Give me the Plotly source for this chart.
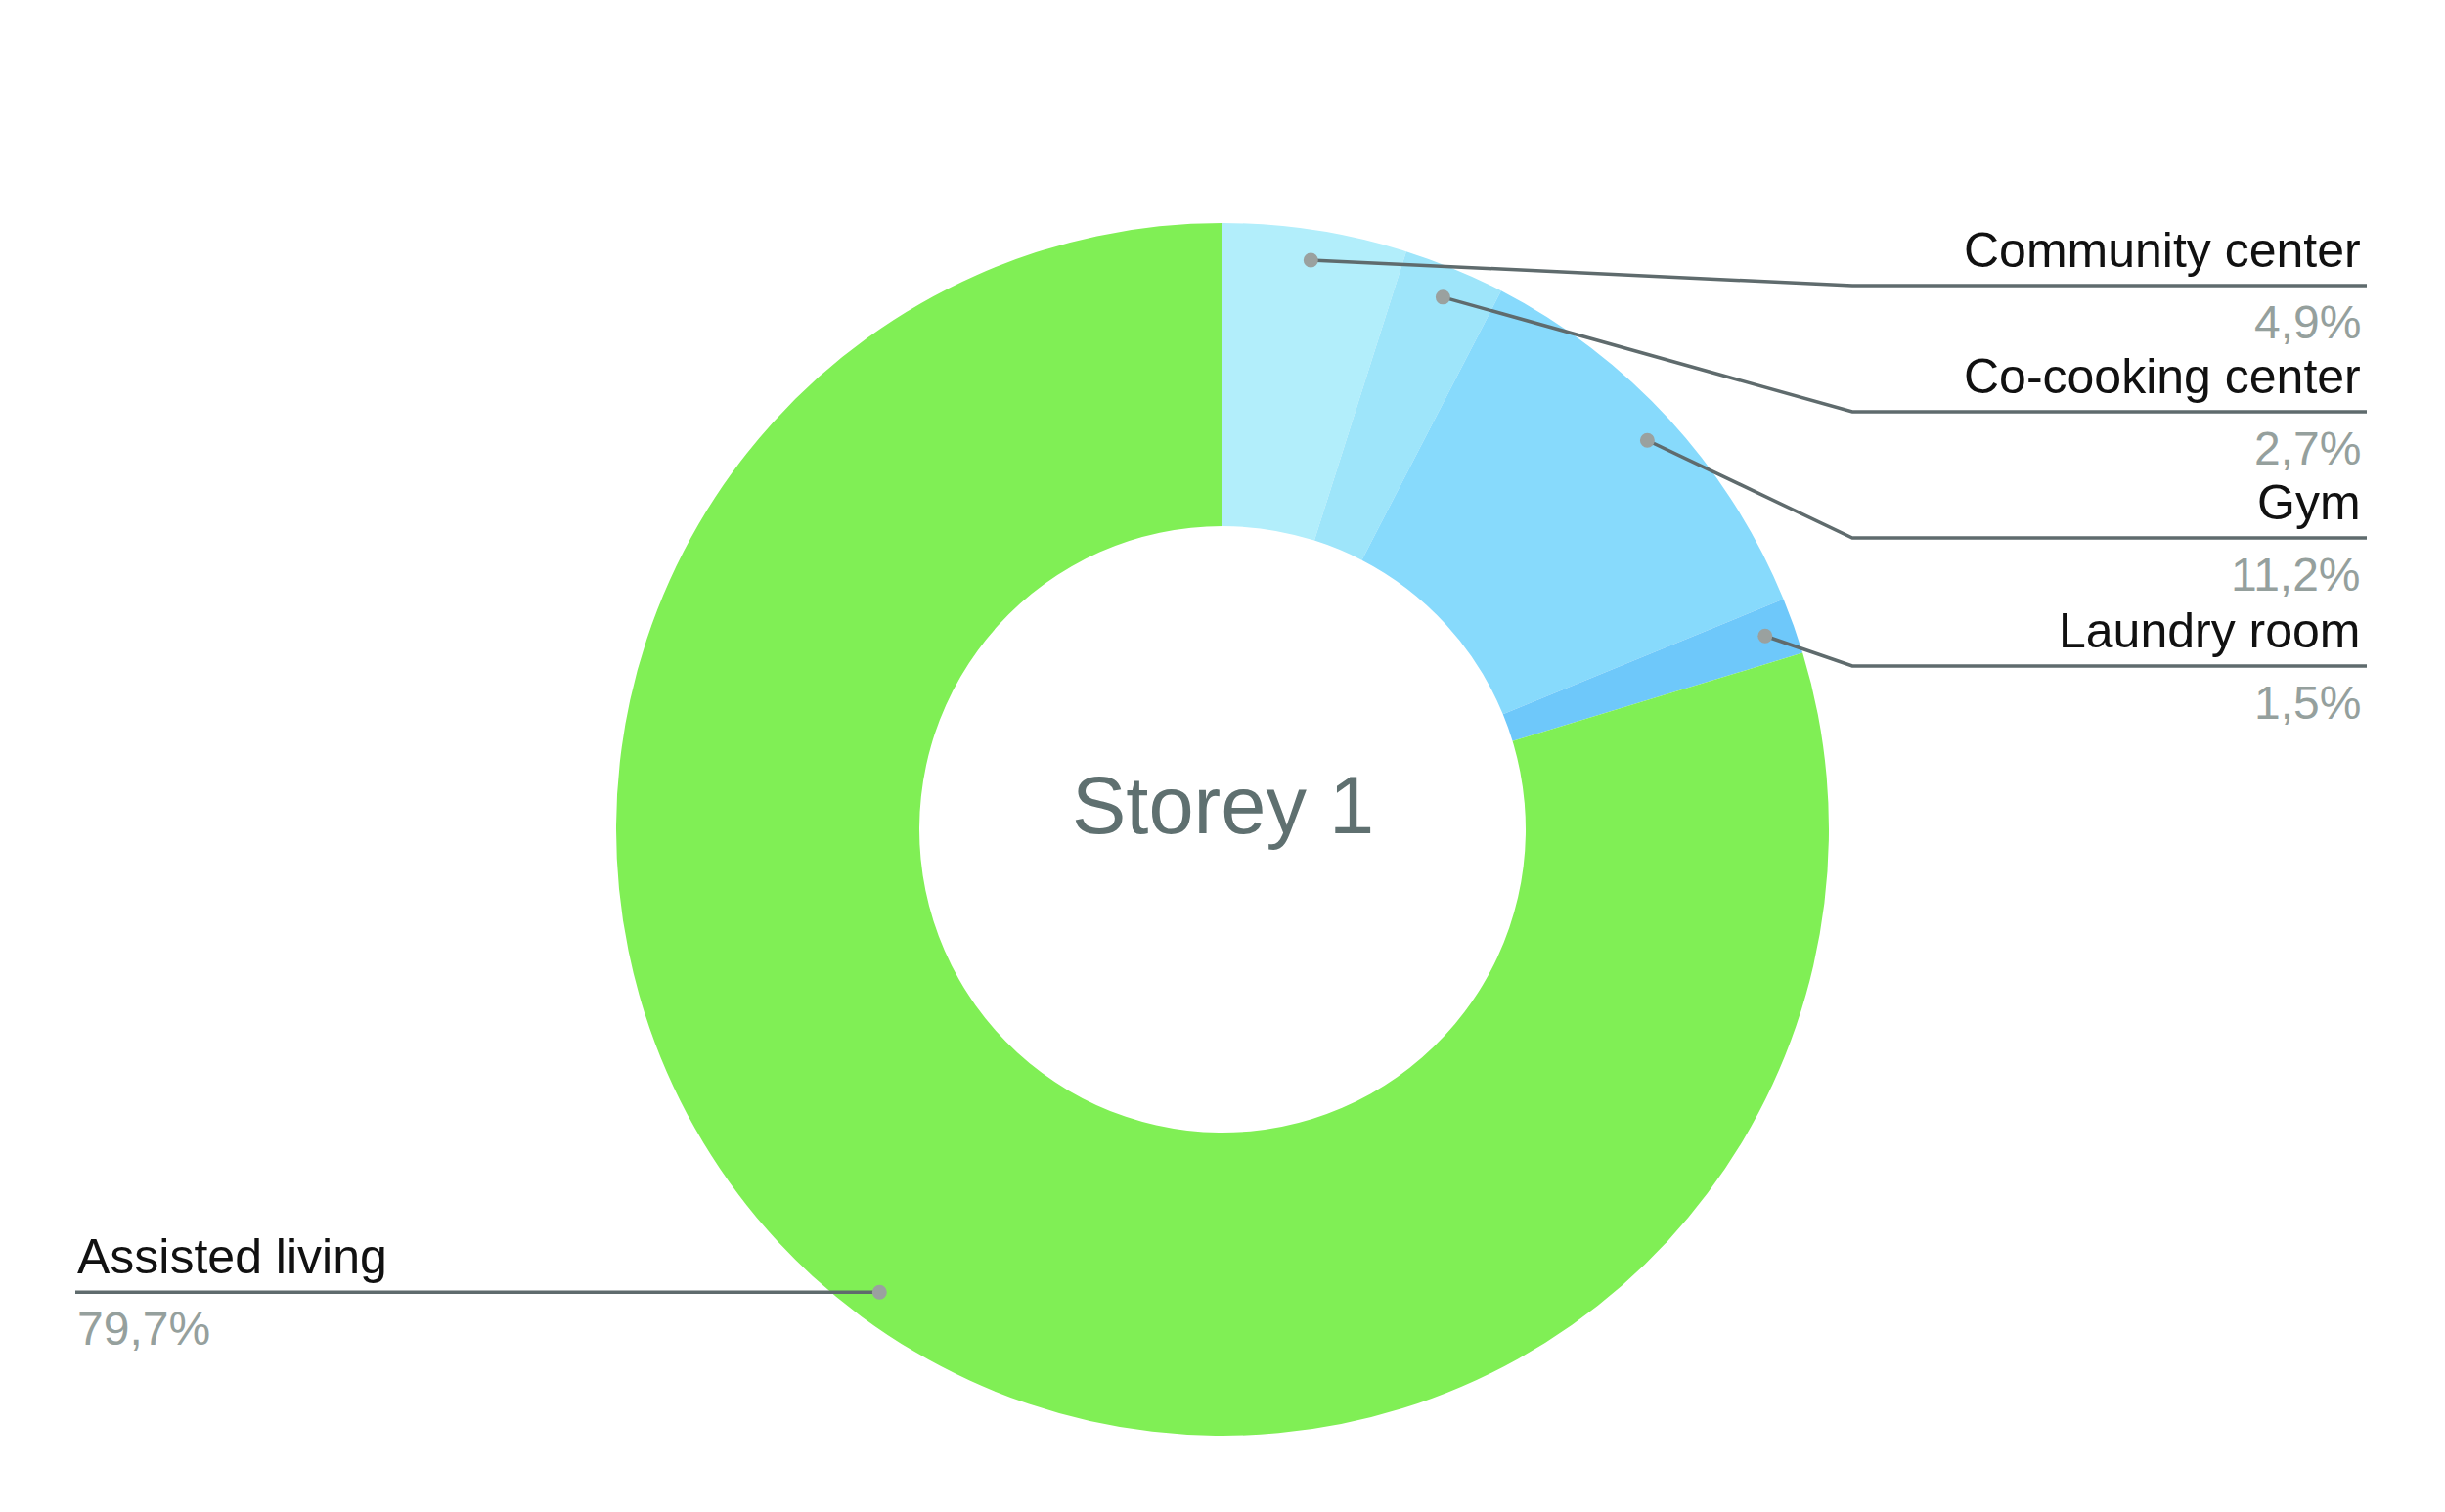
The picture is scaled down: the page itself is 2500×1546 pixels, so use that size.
import math
import plotly.graph_objects as go

# ---- data ----
categories = ["Community center", "Co-cooking center", "Gym", "Laundry room", "Assisted living"]
values = [4.9, 2.7, 11.2, 1.5, 79.7]
pct_labels = ["4,9%", "2,7%", "11,2%", "1,5%", "79,7%"]
colors = ["#b2eefb", "#9ee5fa", "#87dafc", "#6ec8fa", "#80ef55"]
center_title = "Storey 1"

# ---- layout constants (pixel space) ----
W, H = 2500, 1546
CX, CY, R = 1250, 848, 620
DOT_R = 0.95 * R
right_rows_y = [292, 421, 550, 681]
ELBOW_X, LINE_END_X, TEXT_RIGHT_X = 1894, 2420, 2416
LEFT_X = 77
LINE_COLOR = "#5f6b6d"
DOT_COLOR = "#9aa19f"
FONT = "Liberation Sans, Arial, sans-serif"

fig = go.Figure()
fig.add_trace(go.Pie(
    labels=categories, values=values, sort=False, direction="clockwise",
    rotation=0, hole=0.5, textinfo="none", hoverinfo="label+percent",
    marker=dict(colors=colors, line=dict(width=0)),
    domain=dict(x=[(CX - R) / W, (CX + R) / W], y=[(H - CY - R) / H, (H - CY + R) / H]),
    showlegend=False,
))

total = sum(values)
shapes, annotations = [], []
cum = 0.0
for i, (cat, v, pl) in enumerate(zip(categories, values, pct_labels)):
    theta = 2 * math.pi * (cum + v / 2) / total
    cum += v
    dx = CX + DOT_R * math.sin(theta)
    dy = CY - DOT_R * math.cos(theta)
    if i < len(right_rows_y):
        ry = right_rows_y[i]
        path = f"M {dx},{dy} L {ELBOW_X},{ry} L {LINE_END_X},{ry}"
        tx, anchor = TEXT_RIGHT_X, "right"
    else:
        ry = dy
        path = f"M {dx},{dy} L {LEFT_X},{ry}"
        tx, anchor = LEFT_X, "left"
    shapes.append(dict(type="path", path=path, xref="x", yref="y",
                       line=dict(color=LINE_COLOR, width=3.5), layer="above"))
    shapes.append(dict(type="circle", xref="x", yref="y", x0=dx - 7.5, x1=dx + 7.5,
                       y0=dy - 7.5, y1=dy + 7.5, fillcolor=DOT_COLOR,
                       line=dict(width=0), layer="above"))
    annotations.append(dict(x=tx, y=ry - 36, xref="x", yref="y", text=cat, showarrow=False,
                            xanchor=anchor, yanchor="middle",
                            font=dict(family=FONT, size=50, color="#111111")))
    annotations.append(dict(x=tx, y=ry + 37, xref="x", yref="y", text=pl, showarrow=False,
                            xanchor=anchor, yanchor="middle",
                            font=dict(family=FONT, size=48, color="#95a09d")))

annotations.append(dict(x=CX, y=CY - 25, xref="x", yref="y", text=center_title, showarrow=False,
                        xanchor="center", yanchor="middle",
                        font=dict(family=FONT, size=83, color="#5f7070")))

fig.update_layout(
    width=W, height=H, margin=dict(l=0, r=0, t=0, b=0),
    paper_bgcolor="white", plot_bgcolor="rgba(0,0,0,0)",
    xaxis=dict(range=[0, W], visible=False, domain=[0, 1], fixedrange=True),
    yaxis=dict(range=[H, 0], visible=False, domain=[0, 1], fixedrange=True),
    shapes=shapes, annotations=annotations, showlegend=False,
)

fig.write_html("out.html")
